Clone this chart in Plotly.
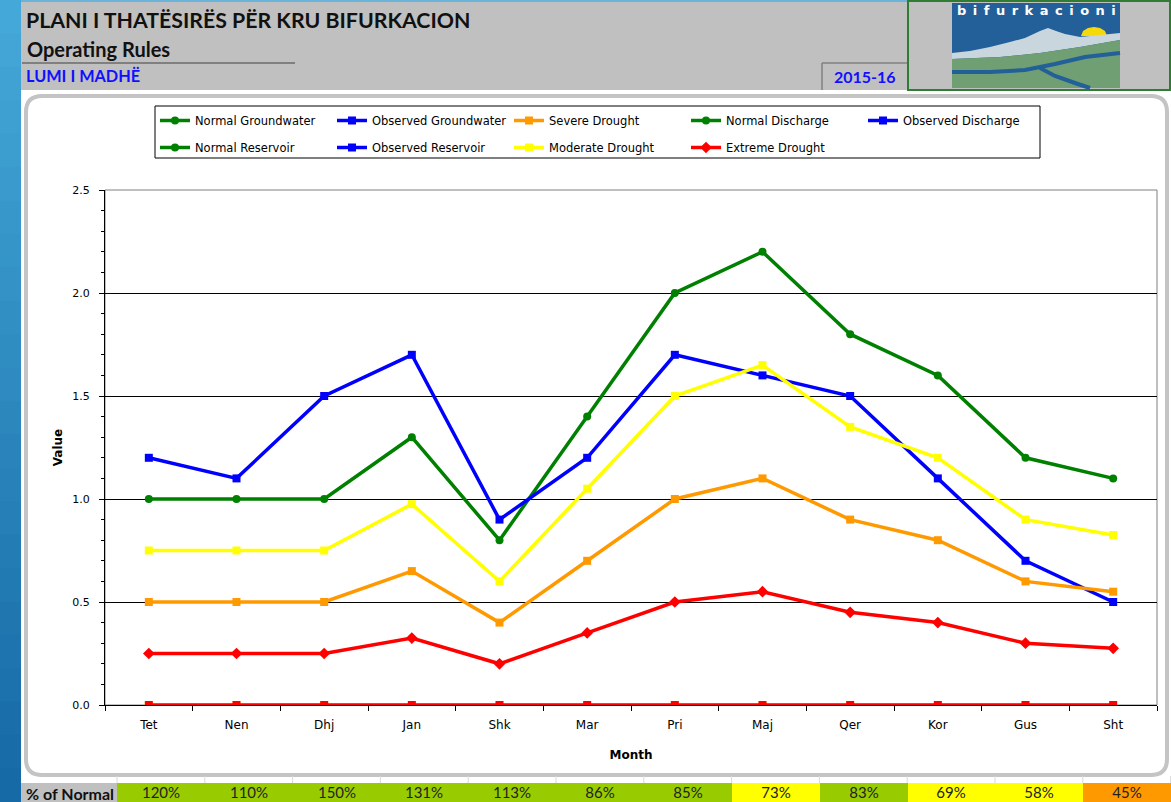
import plotly.graph_objects as go

W, H = 1171, 802


def X(px):
    return px / W


def Y(py):
    return 1 - py / H


# ---------------- data ----------------
months = ["Tet", "Nen", "Dhj", "Jan", "Shk", "Mar", "Pri", "Maj", "Qer", "Kor", "Gus", "Sht"]
normal_discharge = [1.0, 1.0, 1.0, 1.3, 0.8, 1.4, 2.0, 2.2, 1.8, 1.6, 1.2, 1.1]
observed_discharge = [1.2, 1.1, 1.5, 1.7, 0.9, 1.2, 1.7, 1.6, 1.5, 1.1, 0.7, 0.5]
moderate_drought = [0.75, 0.75, 0.75, 0.975, 0.6, 1.05, 1.5, 1.65, 1.35, 1.2, 0.9, 0.825]
severe_drought = [0.5, 0.5, 0.5, 0.65, 0.4, 0.7, 1.0, 1.1, 0.9, 0.8, 0.6, 0.55]
extreme_drought = [0.25, 0.25, 0.25, 0.325, 0.2, 0.35, 0.5, 0.55, 0.45, 0.4, 0.3, 0.275]
zero_series = [0, 0, 0, 0, 0, 0, 0, 0, 0, 0, 0, 0]
normal_groundwater = [None] * 12
observed_groundwater = [None] * 12
normal_reservoir = [None] * 12
observed_reservoir = [None] * 12
pct_normal = [120, 110, 150, 131, 113, 86, 85, 73, 83, 69, 58, 45]
y_ticks = [0.0, 0.5, 1.0, 1.5, 2.0, 2.5]

GREEN = "#008000"
BLUE = "#0000ff"
ORANGE = "#ff9900"
YELLOW = "#ffff00"
RED = "#ff0000"

fig = go.Figure()


def line_trace(name, y, color, symbol, legend, rank, size=8, showlegend=True):
    return go.Scatter(
        x=months, y=y, name=name, mode="lines+markers",
        line=dict(color=color, width=3.5),
        marker=dict(color=color, symbol=symbol, size=size),
        legend=legend, legendrank=rank, showlegend=showlegend,
        hoverinfo="skip",
    )


# legend-only series (no data)
fig.add_trace(line_trace("Normal Groundwater", normal_groundwater, GREEN, "circle", "legend", 1))
fig.add_trace(line_trace("Observed Groundwater", observed_groundwater, BLUE, "square", "legend", 2))
fig.add_trace(line_trace("Normal Reservoir", normal_reservoir, GREEN, "circle", "legend2", 1))
fig.add_trace(line_trace("Observed Reservoir", observed_reservoir, BLUE, "square", "legend2", 2))
# visible series
fig.add_trace(line_trace("zero", zero_series, YELLOW, "square", "legend2", 9, showlegend=False))
fig.add_trace(line_trace("Normal Discharge", normal_discharge, GREEN, "circle", "legend", 4, size=8))
fig.add_trace(line_trace("Observed Discharge", observed_discharge, BLUE, "square", "legend", 5))
fig.add_trace(line_trace("Severe Drought", severe_drought, ORANGE, "square", "legend", 3))
fig.add_trace(line_trace("Moderate Drought", moderate_drought, YELLOW, "square", "legend2", 3))
fig.add_trace(line_trace("Extreme Drought", extreme_drought, RED, "diamond", "legend2", 4, size=9))
fig.add_trace(line_trace("zero", zero_series, RED, "square", "legend2", 9, showlegend=False))

# % of Normal row
codes = [0 if p >= 80 else (1 if p >= 50 else 2) for p in pct_normal]
fig.add_trace(go.Heatmap(
    x=months, y=[0], z=[codes], text=[[f"{p}%" for p in pct_normal]],
    texttemplate="%{text}", textfont=dict(family="Lato", size=15, color="#222222"),
    colorscale=[[0, "#99cc00"], [0.5, "#ffff00"], [1, "#ff9900"]],
    zmin=0, zmax=2, showscale=False, xaxis="x2", yaxis="y2", hoverinfo="skip",
))

# ---------------- shapes ----------------
shapes = []


def rect(x0, y0, x1, y1, fill, line=None, lw=0, layer="below"):
    shapes.append(dict(type="rect", xref="paper", yref="paper",
                       x0=X(x0), x1=X(x1), y0=Y(y1), y1=Y(y0),
                       fillcolor=fill, line=dict(color=line or fill, width=lw), layer=layer))


def seg(x0, y0, x1, y1, color, lw=1, layer="below"):
    shapes.append(dict(type="line", xref="paper", yref="paper",
                       x0=X(x0), x1=X(x1), y0=Y(y0), y1=Y(y1),
                       line=dict(color=color, width=lw), layer=layer))


def path(pts, fill, line=None, lw=0, close=True, layer="below"):
    d = "M " + " L ".join(f"{X(a):.5f},{Y(b):.5f}" for a, b in pts)
    if close:
        d += " Z"
    shapes.append(dict(type="path", xref="paper", yref="paper", path=d,
                       fillcolor=fill if close else None,
                       line=dict(color=line or fill, width=lw), layer=layer))


def rounded_rect(x0, y0, x1, y1, r, fill, line, lw):
    def p(a, b):
        return f"{X(a):.5f},{Y(b):.5f}"
    d = (f"M {p(x0 + r, y0)} L {p(x1 - r, y0)} Q {p(x1, y0)} {p(x1, y0 + r)} "
         f"L {p(x1, y1 - r)} Q {p(x1, y1)} {p(x1 - r, y1)} "
         f"L {p(x0 + r, y1)} Q {p(x0, y1)} {p(x0, y1 - r)} "
         f"L {p(x0, y0 + r)} Q {p(x0, y0)} {p(x0 + r, y0)} Z")
    shapes.append(dict(type="path", xref="paper", yref="paper", path=d,
                       fillcolor=fill, line=dict(color=line, width=lw), layer="below"))


# left blue gradient strip
n = 24
for i in range(n):
    t = i / (n - 1)
    r_ = int(0x44 + (0x16 - 0x44) * t)
    g_ = int(0xa8 + (0x6a - 0xa8) * t)
    b_ = int(0xd8 + (0xa6 - 0xd8) * t)
    rect(0, H * i / n, 21, H * (i + 1) / n + 1, f"rgb({r_},{g_},{b_})")

# header
rect(21, 0, W, 90, "#c0c0c0")
rect(21, 0, W, 2, "#6ab4dc")
seg(22, 63, 295, 63, "#808080", 2)
seg(822, 63, 907, 63, "#808080", 1.5)
seg(822, 63, 822, 90, "#808080", 1.5)

# logo
rect(908, 1, W - 1, 90, "#c0c0c0", "#2e7d32", 2)
rect(952, 3, 1120, 88, "#23609a")
# sun
path([(1081, 36), (1083, 31), (1088, 28), (1094, 27), (1100, 28), (1105, 31), (1107, 36)], "#f5d90a")
# snowy mountain
path([(952, 53), (970, 51), (990, 47), (1010, 42), (1025, 38), (1040, 31), (1048, 28),
      (1056, 31), (1065, 34), (1080, 37), (1100, 35), (1120, 33),
      (1120, 40), (1080, 47), (1040, 53), (1000, 57), (952, 59)], "#c9d6de")
# land
path([(952, 59), (1000, 57), (1040, 53), (1080, 47), (1120, 40), (1120, 88), (952, 88)], "#6f9f72")
# river
path([(952, 72), (990, 72), (1025, 70), (1055, 64), (1085, 57), (1120, 53)], None, "#23609a", 4, close=False)
path([(1040, 68), (1055, 76), (1075, 83), (1090, 88)], None, "#23609a", 4, close=False)

# chart frame
rounded_rect(26, 96, 1167, 775, 16, "#ffffff", "#c4c4c4", 4)

# plot border (gray top/right)
shapes.append(dict(type="rect", xref="x domain", yref="y domain", x0=0, x1=1, y0=0, y1=1,
                   line=dict(color="#808080", width=1), layer="below"))

# legend box
rect(155, 106, 1040, 158, "#ffffff", "#000000", 1)

# % of Normal label cell
rect(21, 783, 117, H, "#c0c0c0")
for k in range(13):
    seg(117 + 87.8 * k, 776, 117 + 87.8 * k, 783, "#d9d9d9", 1)

annotations = [
    dict(text="<b>PLANI I THATËSIRËS PËR KRU BIFURKACION</b>", x=X(24), y=Y(20),
         font=dict(family="Lato", size=21.3, color="#111111")),
    dict(text="<b>Operating Rules</b>", x=X(25), y=Y(49),
         font=dict(family="Lato", size=20, color="#111111")),
    dict(text="<b>LUMI I MADHË</b>", x=X(24), y=Y(76),
         font=dict(family="Lato", size=16.3, color="#1010ff")),
    dict(text="<b>2015-16</b>", x=X(865), y=Y(77), xanchor="center",
         font=dict(family="Lato", size=16, color="#1010ff")),
    dict(text="<b>b\u2002i\u2002f\u2002u\u2002r\u2002k\u2002a\u2002c\u2002i\u2002o\u2002n\u2002i</b>",
         x=X(1036), y=Y(11), xanchor="center",
         font=dict(family="DejaVu Sans", size=13, color="#ffffff")),
    dict(text="<b>% of Normal</b>", x=X(24), y=Y(793),
         font=dict(family="Lato", size=16, color="#111111")),
]
for a in annotations:
    a.setdefault("xanchor", "left")
    a.update(xref="paper", yref="paper", yanchor="middle", showarrow=False)

fig.update_layout(
    width=W, height=H, autosize=False,
    margin=dict(l=0, r=0, t=0, b=0, pad=0, autoexpand=False),
    paper_bgcolor="#ffffff", plot_bgcolor="#c0c0c0",
    font=dict(family="DejaVu Sans", size=11, color="#000000"),
    shapes=shapes, annotations=annotations,
    xaxis=dict(domain=[X(105), X(1157)], anchor="y", type="category",
               categoryorder="array", categoryarray=months,
               showline=True, linecolor="#000000", linewidth=1,
               ticks="outside", ticklen=5, tickcolor="#000000", tickson="boundaries",
               ticklabelstandoff=9,
               showgrid=False, tickfont=dict(family="DejaVu Sans", size=12),
               title=dict(text="<b>Month</b>", font=dict(family="DejaVu Sans", size=12), standoff=19),
               range=[-0.5, 11.5], fixedrange=True),
    yaxis=dict(domain=[Y(705), Y(190)], anchor="x", range=[0, 2.5],
               tickvals=y_ticks, tickformat=".1f",
               showline=True, linecolor="#000000", linewidth=1,
               ticks="outside", ticklen=5, tickcolor="#000000",
               ticklabelstandoff=7,
               minor=dict(dtick=0.1, ticks="outside", ticklen=3, tickcolor="#000000", showgrid=False),
               showgrid=True, gridcolor="#000000", gridwidth=1,
               zeroline=False, tickfont=dict(family="DejaVu Sans", size=11),
               title=dict(text="<b>Value</b>", font=dict(family="DejaVu Sans", size=12), standoff=7),
               fixedrange=True),
    xaxis2=dict(domain=[X(117), 1], anchor="y2", type="category",
                categoryorder="array", categoryarray=months, range=[-0.5, 11.5],
                showticklabels=False, showgrid=False, showline=False, ticks="", zeroline=False),
    yaxis2=dict(domain=[0, Y(783)], anchor="x2", range=[-0.5, 0.5],
                showticklabels=False, showgrid=False, showline=False, ticks="", zeroline=False),
    legend=dict(orientation="h", x=X(155), y=Y(106), xanchor="left", yanchor="top",
                bgcolor="rgba(0,0,0,0)", borderwidth=0, entrywidth=132, entrywidthmode="pixels",
                font=dict(family="DejaVu Sans", size=11.5, color="#000000"), itemclick=False),
    legend2=dict(orientation="h", x=X(155), y=Y(133), xanchor="left", yanchor="top",
                 bgcolor="rgba(0,0,0,0)", borderwidth=0, entrywidth=132, entrywidthmode="pixels",
                 font=dict(family="DejaVu Sans", size=11.5, color="#000000"), itemclick=False),
)

fig.write_html(
    "out.html", config={"displayModeBar": False, "responsive": False},
    post_script=("document.documentElement.style.margin='0';"
                 "document.documentElement.style.padding='0';"
                 "document.documentElement.style.overflow='hidden';"
                 "document.body.style.margin='0';document.body.style.padding='0';"
                 "document.body.style.overflow='hidden';window.scrollTo(0,0);"),
)
